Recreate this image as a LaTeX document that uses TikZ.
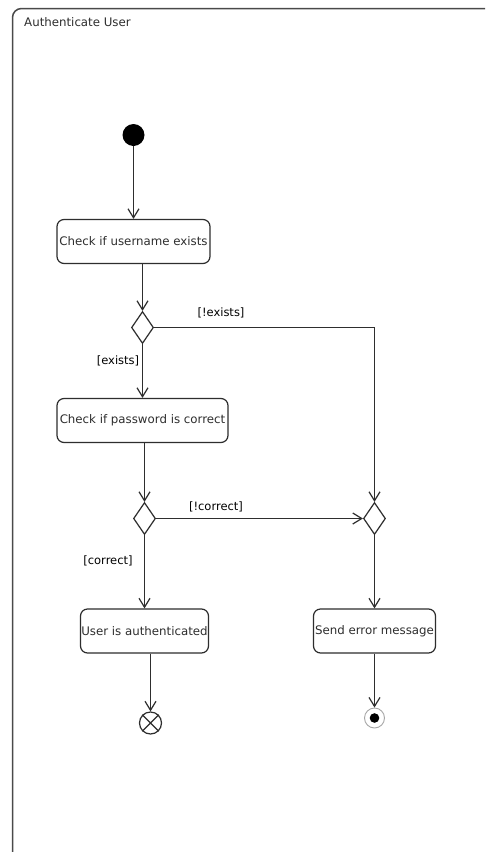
\documentclass[tikz,border=0pt]{standalone}
\usepackage{fontspec}
\setmainfont{DejaVu Sans}
\usetikzlibrary{arrows.meta,shapes.geometric}
\definecolor{ink}{HTML}{2E2E2E}
\definecolor{framegray}{HTML}{4A4A4A}
\tikzset{
  action/.style={draw=ink, line width=1.2pt, rounded corners=7pt, minimum height=44pt,
    inner sep=0pt, font=\fontsize{11.8}{14}\selectfont, text=ink},
  decision/.style={draw=ink, line width=1.2pt, diamond, minimum width=22pt,
    minimum height=32pt, inner sep=0pt},
  flow/.style={draw=ink, line width=1.2pt,
    -{Straight Barb[length=9pt,width=11pt,line width=1.2pt]}},
  guard/.style={font=\fontsize{11.5}{13}\selectfont, text=black, inner sep=1pt},
  title/.style={font=\fontsize{11.8}{14}\selectfont, text=ink, anchor=west, inner sep=0pt},
}
\begin{document}
\begin{tikzpicture}[x=1pt, y=-1pt]
  \useasboundingbox (0,0) rectangle (485,852);
  \clip (0,0) rectangle (485,852);
  \fill[white] (0,0) rectangle (485,852);

  % activity frame
  \draw[framegray, line width=1.5pt, rounded corners=9pt] (12.5,8.5) rectangle (540,900);
  \node[title] (ttl) at (24,22) {Authenticate User};

  % initial node
  \node[circle, fill=black, minimum size=22pt, inner sep=0pt] (init) at (133.5,135) {};

  % actions
  \node[action, minimum width=153pt] (b1) at (133.5,241.5) {Check if username exists};
  \node[action, minimum width=171pt] (b2) at (142.5,420.5) {Check if password is correct};
  \node[action, minimum width=128pt] (b3) at (144.5,631) {User is authenticated};
  \node[action, minimum width=122pt] (b4) at (374.5,631) {Send error message};

  % decisions / merge
  \node[decision] (d1) at (142.5,327.5) {};
  \node[decision] (d2) at (144.5,518.5) {};
  \node[decision] (d3) at (374.5,518.5) {};

  % flow final
  \node[circle, draw=ink, line width=1.2pt, minimum size=22pt, inner sep=0pt] (ff) at (150.5,723) {};
  \draw[ink, line width=1.2pt] (ff.north west) -- (ff.south east) (ff.north east) -- (ff.south west);

  % activity final
  \node[circle, draw=gray!70, line width=0.9pt, minimum size=20pt, inner sep=0pt] (af) at (374.5,718) {};
  \fill[black] (af.center) circle (4.8pt);

  % control flows
  \draw[flow] (init) -- (init |- b1.north);
  \draw[flow] (b1.south -| d1) -- (d1.north);
  \draw[flow] (d1) -- (b2);
  \draw[flow] (d1.east) -| (d3.north);
  \draw[flow] (b2.south -| d2) -- (d2.north);
  \draw[flow] (d2.east) -- (d3.west);
  \draw[flow] (d2) -- (b3);
  \draw[flow] (d3) -- (b4);
  \draw[flow] (b3.south -| ff) -- (ff);
  \draw[flow] (b4) -- (af);

  % guards
  \node[guard] (g1) at (221,313) {[!exists]};
  \node[guard] (g2) at (118,361) {[exists]};
  \node[guard] (g3) at (216,507) {[!correct]};
  \node[guard] (g4) at (108,561) {[correct]};
\end{tikzpicture}
\end{document}
